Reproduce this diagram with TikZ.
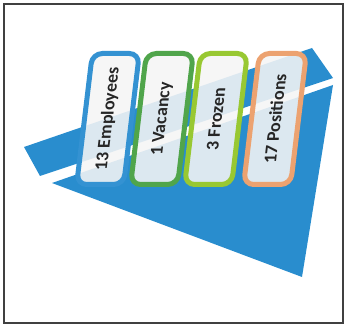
\documentclass[tikz,border=0pt]{standalone}
\usepackage{fontspec}
\setmainfont{Carlito}
\usetikzlibrary{positioning}
\definecolor{sheetblue}{RGB}{41,141,206}
\definecolor{tabblue}{RGB}{52,146,210}
\definecolor{tabgreen}{RGB}{80,165,75}
\definecolor{tablime}{RGB}{152,200,50}
\definecolor{taborange}{RGB}{236,162,112}

\begin{document}
\begin{tikzpicture}[x=1pt, y=1pt]
    \tikzset{
        tab/.style={draw=#1, line width=5pt, rounded corners=10pt, fill=gray!8, fill opacity=0.88, text opacity=1, minimum width=131pt, minimum height=47pt, rotate=90, transform shape, font=\fontsize{18}{20}\selectfont\bfseries, text=black!85},
        frame/.style={draw=black!75, line width=1.6pt}
    }
    \useasboundingbox (0,0) rectangle (348,327);
    \draw [frame] (4,4) rectangle (343,323);

    % blue arrow, cut by the white stripe
    \fill [sheetblue] (24,180) -- (312,279) -- (333,249) -- (40,151) -- cycle;
    \fill [sheetblue] (52,144) -- (333,242) -- (302,50) -- cycle;

    \begin{scope}[shift={(0,208)}, xslant=0.12]
        \node (Emp) [tab=tabblue] at (108,0) {13 Employees};
        \node (Vac) [tab=tabgreen] at (162,0) {1 Vacancy};
        \node (Frz) [tab=tablime] at (216,0) {3 Frozen};
        \node (Pos) [tab=taborange] at (275,0) {17 Positions};
    \end{scope}
\end{tikzpicture}
\end{document}
